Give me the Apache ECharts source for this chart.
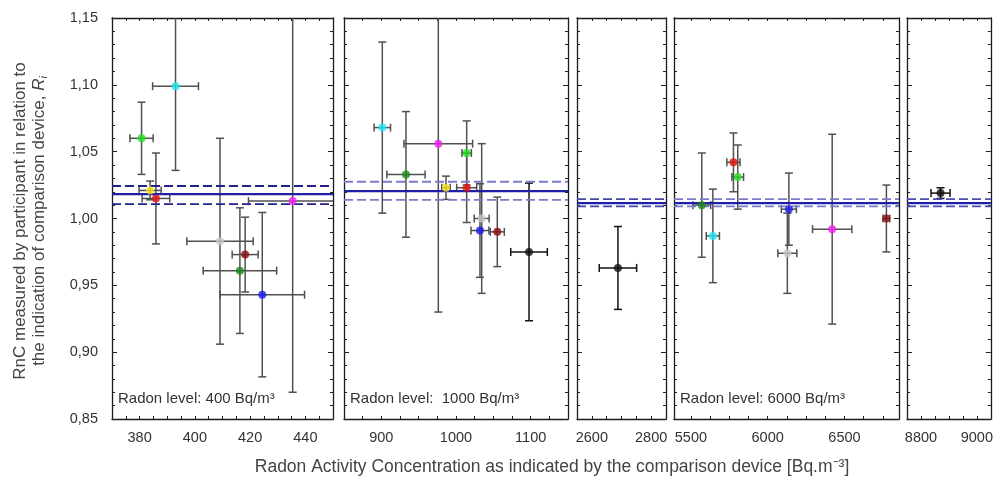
<!DOCTYPE html>
<html><head><meta charset="utf-8">
<script src="https://cdn.jsdelivr.net/npm/echarts@6/dist/echarts.min.js"></script>
<style>html,body{margin:0;padding:0;background:#fff}#c{width:996px;height:484px}</style>
</head><body><div id="c"></div>
<script>
// ---------------- DATA ----------------
// Panel 1 – Radon level 400 Bq/m³
const p1Key  = ['cyan','lime','yellow','red','silver','maroon','green','blue','magenta'];
const p1X    = [393, 380.7, 383.8, 385.9, 409.1, 418.2, 416.3, 424.4, 435.4];
const p1Xerr = [8.3, 4.2, 4, 5, 12, 4.7, 13.3, 15.3, 16];
const p1Y    = [1.099, 1.060, 1.021, 1.015, 0.983, 0.973, 0.961, 0.943, 1.013];
const p1Yerr = [0.063, 0.027, 0.007, 0.034, 0.077, 0.028, 0.047, 0.0615, 0.143];
// Panel 2 – Radon level 1000 Bq/m³
const p2Key  = ['cyan','green','magenta','lime','yellow','red','silver','blue','maroon','black'];
const p2X    = [901.3, 933, 976.3, 1014.3, 986.6, 1014.3, 1034.4, 1032.1, 1055.3, 1097.8];
const p2Xerr = [11, 25.6, 46, 6.3, 5.6, 13.4, 10, 12, 9.4, 24.5];
const p2Y    = [1.068, 1.033, 1.056, 1.049, 1.023, 1.023, 1.000, 0.991, 0.990, 0.975];
const p2Yerr = [0.064, 0.047, 0.126, 0.024, 0.0087, 0.026, 0.056, 0.035, 0.026, 0.0515];
// Panel 3
const p3Key  = ['black'];
const p3X    = [2688];
const p3Xerr = [63];
const p3Y    = [0.963];
const p3Yerr = [0.031];
// Panel 4 – Radon level 6000 Bq/m³
const p4Key  = ['red','lime','green','cyan','blue','silver','magenta','maroon'];
const p4X    = [5777, 5805, 5571, 5643, 6138, 6128, 6420, 6773];
const p4Xerr = [43, 38, 58, 43, 49, 62, 128, 22];
const p4Y    = [1.042, 1.031, 1.010, 0.987, 1.007, 0.974, 0.992, 1.000];
const p4Yerr = [0.022, 0.024, 0.039, 0.035, 0.027, 0.030, 0.071, 0.025];
// Panel 5
const p5Key  = ['black'];
const p5X    = [8870];
const p5Xerr = [34];
const p5Y    = [1.019];
const p5Yerr = [0.004];

// reference values (mean and uncertainty band) per panel
const refMean  = [1.0183, 1.0205, 1.0115, 1.0115, 1.0115];
const refUpper = [1.0243, 1.0275, 1.0145, 1.0145, 1.0145];
const refLower = [1.0108, 1.0140, 1.0090, 1.0090, 1.0090];

// axes
const xMin = [370, 850, 2550, 5390, 8750];
const xMax = [450, 1150, 2850, 6855, 9050];
const xTickStep = [5, 25, 50, 125, 50];
const xLabels = [[380, 400, 420, 440], [900, 1000, 1100], [2600, 2800], [5500, 6000, 6500], [8800, 9000]];
const yMin = 0.85, yMax = 1.15, yStep = 0.05;
const levelText = ['Radon level: 400 Bq/m³', 'Radon level:  1000 Bq/m³', '', 'Radon level: 6000 Bq/m³', ''];
const yTitle1 = 'RnC measured by participant in relation to';
const yTitle2 = 'the indication of comparison device, ';
const xTitle = 'Radon Activity Concentration as indicated by the comparison device [Bq.m⁻³]';

// ---------------- STYLE ----------------
const COLORS = {cyan:'#1fe6f2', lime:'#22e022', yellow:'#f2e21a', red:'#e31010', silver:'#c8c8c8',
  maroon:'#8b0a0a', green:'#1b8a1b', blue:'#1a1aee', magenta:'#f020f0', black:'#111111'};
const FONT = '"Liberation Sans", Arial, sans-serif';
const gridLeft = [112, 344, 577, 674, 907];
const gridWidth = [221, 224, 89, 225, 88];
const gridTop = 18, gridHeight = 401;
const dashColor = ['#22228a', '#7b7bcc', '#4545aa', '#7b7bcc', '#4c4cb4'];
const solidColor = '#1e1ea8';

const panels = [
  {key:p1Key, x:p1X, xe:p1Xerr, y:p1Y, ye:p1Yerr},
  {key:p2Key, x:p2X, xe:p2Xerr, y:p2Y, ye:p2Yerr},
  {key:p3Key, x:p3X, xe:p3Xerr, y:p3Y, ye:p3Yerr},
  {key:p4Key, x:p4X, xe:p4Xerr, y:p4Y, ye:p4Yerr},
  {key:p5Key, x:p5X, xe:p5Xerr, y:p5Y, ye:p5Yerr}
];

function tickValues(i) {
  const out = [];
  const s = xTickStep[i];
  for (let v = Math.ceil(xMin[i] / s) * s; v <= xMax[i] + 1e-9; v += s) out.push(v);
  return out;
}

function makeErrRender(keys) {
  return function (params, api) {
    const x = api.value(0), y = api.value(1), ex = api.value(2), ey = api.value(3);
    const cs = params.coordSys;
    const L = cs.x, R = cs.x + cs.width, T = cs.y, B = cs.y + cs.height;
    const c = api.coord([x, y]);
    const xl = api.coord([x - ex, y])[0], xr = api.coord([x + ex, y])[0];
    const yt = api.coord([x, y + ey])[1], yb = api.coord([x, y - ey])[1];
    const col = keys[params.dataIndex] === 'black' ? '#111' : '#505050';
    const st = {stroke: col, lineWidth: 1.5, fill: null};
    const cap = 4;
    const ch = [];
    ch.push({type:'line', shape:{x1:Math.max(xl, L), y1:c[1], x2:Math.min(xr, R), y2:c[1]}, style:st});
    if (xl >= L) ch.push({type:'line', shape:{x1:xl, y1:c[1]-cap, x2:xl, y2:c[1]+cap}, style:st});
    if (xr <= R) ch.push({type:'line', shape:{x1:xr, y1:c[1]-cap, x2:xr, y2:c[1]+cap}, style:st});
    ch.push({type:'line', shape:{x1:c[0], y1:Math.max(yt, T), x2:c[0], y2:Math.min(yb, B)}, style:st});
    if (yt >= T) ch.push({type:'line', shape:{x1:c[0]-cap, y1:yt, x2:c[0]+cap, y2:yt}, style:st});
    if (yb <= B) ch.push({type:'line', shape:{x1:c[0]-cap, y1:yb, x2:c[0]+cap, y2:yb}, style:st});
    return {type:'group', children: ch};
  };
}

const grid = [], xAxis = [], yAxis = [], series = [], graphic = [];
const axisLineStyle = {color:'#1a1a1a', width:1.3};

panels.forEach((p, i) => {
  grid.push({left: gridLeft[i], top: gridTop, width: gridWidth[i], height: gridHeight});
  const ticks = tickValues(i);
  const labelFmt = v => String(v);
  xAxis.push({gridIndex:i, type:'value', position:'bottom', min:xMin[i], max:xMax[i],
    axisLine:{show:true, onZero:false, lineStyle:axisLineStyle},
    axisTick:{show:true, inside:true, length:3, customValues:ticks, lineStyle:{color:'#222', width:1}},
    axisLabel:{show:true, customValues:xLabels[i], formatter:labelFmt, margin:11,
      fontSize:14.5, fontFamily:FONT, color:'#333'},
    splitLine:{show:false}});
  xAxis.push({gridIndex:i, type:'value', position:'top', min:xMin[i], max:xMax[i],
    axisLine:{show:true, onZero:false, lineStyle:axisLineStyle},
    axisTick:{show:true, inside:true, length:3, customValues:ticks, lineStyle:{color:'#222', width:1}},
    axisLabel:{show:false}, splitLine:{show:false}});
  yAxis.push({gridIndex:i, type:'value', position:'left', min:yMin, max:yMax, interval:yStep,
    axisLine:{show:true, onZero:false, lineStyle:axisLineStyle},
    axisTick:{show:true, inside:true, length:5, lineStyle:{color:'#222', width:1}},
    minorTick:{show:true, splitNumber:5, length:3, lineStyle:{color:'#222', width:1}},
    axisLabel:{show:i === 0, formatter: v => v.toFixed(2).replace('.', ','), margin:14,
      fontSize:14.5, fontFamily:FONT, color:'#333'},
    splitLine:{show:false}, minorSplitLine:{show:false}});
  yAxis.push({gridIndex:i, type:'value', position:'right', min:yMin, max:yMax, interval:yStep,
    axisLine:{show:true, onZero:false, lineStyle:axisLineStyle},
    axisTick:{show:true, inside:true, length:5, lineStyle:{color:'#222', width:1}},
    minorTick:{show:true, splitNumber:5, length:3, lineStyle:{color:'#222', width:1}},
    axisLabel:{show:false}, splitLine:{show:false}, minorSplitLine:{show:false}});

  const xi = 2 * i, yi = 2 * i;
  series.push({type:'custom', xAxisIndex:xi, yAxisIndex:yi, z:2, silent:true,
    renderItem: makeErrRender(p.key),
    encode:{x:0, y:1},
    data: p.x.map((xv, k) => [xv, p.y[k], p.xe[k], p.ye[k]])});
  [[refUpper[i], 'dash'], [refLower[i], 'dash'], [refMean[i], 'solid']].forEach(([v, kind]) => {
    series.push({type:'line', xAxisIndex:xi, yAxisIndex:yi, z:3, silent:true, symbol:'none',
      lineStyle: kind === 'solid' ? {color:solidColor, width:2.2, type:'solid'}
                                  : {color:dashColor[i], width:1.8, type:[9, 4]},
      data:[[xMin[i], v], [xMax[i], v]]});
  });
  series.push({type:'scatter', xAxisIndex:xi, yAxisIndex:yi, z:4, silent:true,
    symbol:'circle', symbolSize:8,
    data: p.x.map((xv, k) => ({value:[xv, p.y[k]], itemStyle:{color:COLORS[p.key[k]]}}))});

  if (levelText[i]) {
    graphic.push({type:'text', x:gridLeft[i] + 6, y:399, z:10,
      style:{text:levelText[i], fontSize:15, fontFamily:FONT, fill:'#333', align:'left', verticalAlign:'middle'}});
  }
});

const TF = 17;
graphic.push({type:'text', x:20, y:221, rotation:Math.PI / 2, z:10,
  style:{text:yTitle1, fontSize:TF, fontFamily:FONT, fill:'#444', align:'center', verticalAlign:'middle'}});
graphic.push({type:'text', x:39, y:221, rotation:Math.PI / 2, z:10,
  style:{text:'{a|' + yTitle2 + '}{b|R}{c|i}', fontSize:TF, fontFamily:FONT, fill:'#444', align:'center', verticalAlign:'middle',
    rich:{a:{fontSize:TF, fontFamily:FONT, fill:'#444', lineHeight:20},
          b:{fontSize:TF, fontFamily:FONT, fill:'#444', fontStyle:'italic', lineHeight:20},
          c:{fontSize:11, fontFamily:FONT, fill:'#444', fontStyle:'italic', lineHeight:20, verticalAlign:'bottom'}}}});
graphic.push({type:'text', x:552, y:467, z:10,
  style:{text:xTitle, fontSize:17.5, fontFamily:FONT, fill:'#444', align:'center', verticalAlign:'middle'}});

const chart = echarts.init(document.getElementById('c'), null, {renderer:'canvas'});
chart.setOption({animation:false, backgroundColor:'#fff', grid, xAxis, yAxis, series, graphic});
</script>
</body></html>
